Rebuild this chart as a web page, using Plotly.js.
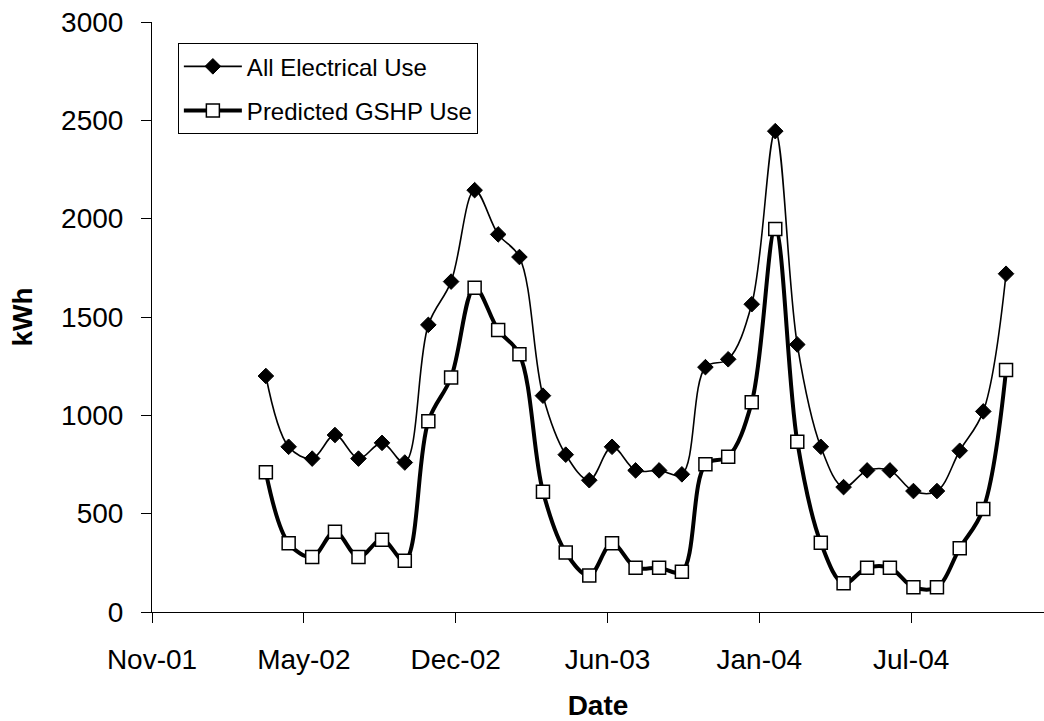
<!DOCTYPE html>
<html>
<head>
<meta charset="utf-8">
<script src="https://cdn.plot.ly/plotly-3.0.1.min.js"></script>
<style>
  html, body { margin: 0; padding: 0; background: #fff; }
  #chart { width: 1044px; height: 721px; }
</style>
</head>
<body>
<div id="chart"></div>
<script>
// Monthly readings (end of month), Mar 2002 – Nov 2004
const months = [
  '2002-03-31', '2002-04-30', '2002-05-31', '2002-06-30', '2002-07-31', '2002-08-31',
  '2002-09-30', '2002-10-31', '2002-11-30', '2002-12-31',
  '2003-01-31', '2003-02-28', '2003-03-31', '2003-04-30', '2003-05-31', '2003-06-30',
  '2003-07-31', '2003-08-31', '2003-09-30', '2003-10-31', '2003-11-30', '2003-12-31',
  '2004-01-31', '2004-02-29', '2004-03-31', '2004-04-30', '2004-05-31', '2004-06-30',
  '2004-07-31', '2004-08-31', '2004-09-30', '2004-10-31', '2004-11-30'
];

// kWh per month
const allElectricalUse = [
  1200, 840, 780, 900, 780, 860, 760, 1460, 1680, 2145,
  1920, 1805, 1100, 800, 670, 840, 720, 720, 700, 1245, 1285, 1565,
  2445, 1360, 840, 635, 720, 720, 615, 615, 820, 1020, 1720
];
const predictedGshpUse = [
  710, 350, 280, 408, 280, 368, 261, 970, 1193, 1649,
  1434, 1310, 612, 303, 185, 349, 225, 225, 205, 751, 790, 1066,
  1947, 866, 352, 146, 225, 225, 126, 126, 324, 524, 1230
];

// Date axis: a tick every 200 days starting 1 Nov 2001
const tickDates = ['2001-11-01', '2002-05-20', '2002-12-06', '2003-06-24', '2004-01-10', '2004-07-28'];
const tickLabels = ['Nov-01', 'May-02', 'Dec-02', 'Jun-03', 'Jan-04', 'Jul-04'];

const FONT = '"Liberation Sans", Arial, sans-serif';

const traces = [
  {
    name: 'All Electrical Use',
    legendgroup: 'elec',
    x: months,
    y: allElectricalUse,
    type: 'scatter',
    mode: 'lines+markers',
    line: { color: '#000', width: 1.6, shape: 'spline', smoothing: 1 },
    marker: { symbol: 'diamond', size: 12, color: '#000', line: { color: '#000', width: 1 } }
  },
  {
    name: 'Predicted GSHP Use',
    legendgroup: 'gshp',
    x: months,
    y: predictedGshpUse,
    type: 'scatter',
    mode: 'lines+markers',
    line: { color: '#000', width: 4, shape: 'spline', smoothing: 1 },
    marker: { symbol: 'square', size: 13, color: '#fff', line: { color: '#000', width: 1.5 } }
  }
];

const layout = {
  width: 1044,
  height: 721,
  paper_bgcolor: '#fff',
  plot_bgcolor: '#fff',
  margin: { l: 152, r: 0, t: 22, b: 109 },
  font: { family: FONT, size: 28, color: '#000' },
  showlegend: true,
  legend: {
    x: 0.029, y: 0.964, xanchor: 'left', yanchor: 'top',
    bgcolor: '#fff', bordercolor: '#000', borderwidth: 1,
    font: { family: FONT, size: 24, color: '#000' },
    itemwidth: 58,
    traceorder: 'grouped',
    tracegroupgap: 10
  },
  xaxis: {
    type: 'date',
    range: ['2001-11-01', '2005-01-19'],
    tickmode: 'array',
    tickvals: tickDates,
    ticktext: tickLabels,
    ticks: 'outside', ticklen: 10, tickcolor: '#000', tickwidth: 1,
    ticklabelstandoff: 12,
    showline: true, linecolor: '#000', linewidth: 1,
    showgrid: false, zeroline: false,
    tickfont: { family: FONT, size: 28, color: '#000' },
    title: { text: '<b>Date</b>', font: { family: FONT, size: 28, color: '#000' }, standoff: 22 }
  },
  yaxis: {
    range: [0, 3000],
    tickmode: 'linear', tick0: 0, dtick: 500,
    ticks: 'outside', ticklen: 10, tickcolor: '#000', tickwidth: 1,
    ticklabelstandoff: 12,
    showline: true, linecolor: '#000', linewidth: 1,
    showgrid: false, zeroline: false,
    tickfont: { family: FONT, size: 28, color: '#000' },
    title: { text: '<b>kWh</b>', font: { family: FONT, size: 28, color: '#000' }, standoff: 20 }
  }
};

Plotly.newPlot('chart', traces, layout, { displayModeBar: false, staticPlot: true });
</script>
</body>
</html>
